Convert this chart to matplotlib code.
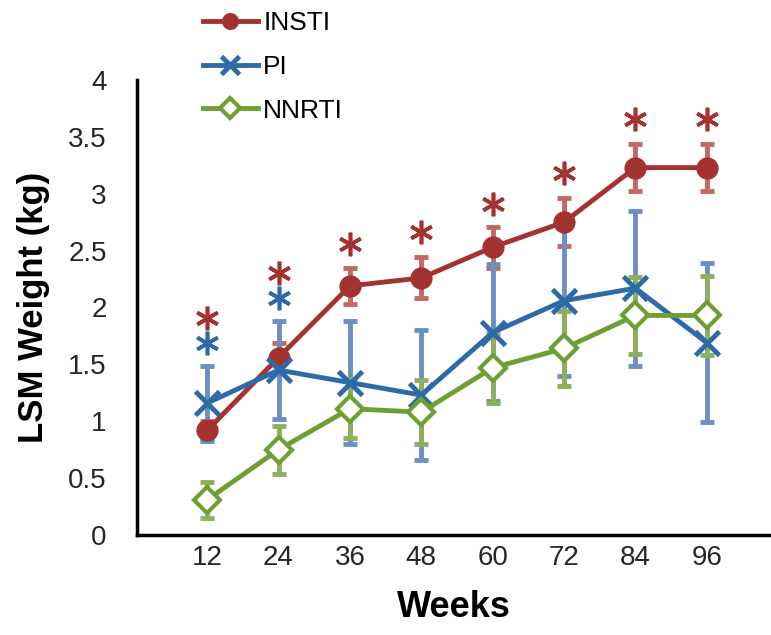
import matplotlib
matplotlib.use("Agg")
import matplotlib.pyplot as plt
import numpy as np

plt.rcParams['font.family'] = ['Liberation Sans', 'DejaVu Sans']

weeks = ["12", "24", "36", "48", "60", "72", "84", "96"]

insti = [0.92, 1.56, 2.19, 2.26, 2.53, 2.75, 3.23, 3.23]
insti_err = [0.08, 0.13, 0.16, 0.18, 0.18, 0.21, 0.21, 0.21]
pi = [1.16, 1.45, 1.34, 1.23, 1.78, 2.06, 2.17, 1.69]
pi_err = [0.33, 0.43, 0.54, 0.57, 0.60, 0.66, 0.68, 0.70]
nnrti = [0.31, 0.75, 1.11, 1.08, 1.47, 1.64, 1.93, 1.93]
nnrti_err = [0.16, 0.21, 0.26, 0.28, 0.31, 0.33, 0.34, 0.35]

# significance stars (heights in kg)
red_star_idx = [0, 1, 2, 3, 4, 5, 6, 7]
red_star_y = [1.91, 2.30, 2.56, 2.66, 2.91, 3.18, 3.66, 3.66]
blue_star_idx = [0, 1]
blue_star_y = [1.69, 2.08]

red, red_e = "#A33230", "#C46862"
blue, blue_e = "#2E6AAA", "#6D8EC4"
green, green_e = "#6E9F33", "#8DB05C"

fig = plt.figure(figsize=(7.71, 6.35), dpi=100)
ax = fig.add_axes([0.178, 0.1575, 0.822, 0.7165])
x = np.arange(len(weeks))

for y, e, c in [(insti, insti_err, red_e), (pi, pi_err, blue_e), (nnrti, nnrti_err, green_e)]:
    ax.errorbar(x, y, yerr=e, fmt="none", ecolor=c, elinewidth=3.5,
                capsize=5, capthick=3.5, zorder=2)

ax.plot(x, insti, color=red, lw=3.5, marker="o", ms=15, zorder=3, label="INSTI")
ax.plot(x, pi, color=blue, lw=3.5, marker="x", ms=17, mew=3.5, zorder=4, label="PI")
ax.plot(x, nnrti, color=green, lw=3.5, marker="D", ms=13, mew=3,
        mfc="white", mec=green, zorder=5, label="NNRTI")

ax.plot(x[red_star_idx], red_star_y, ls="none", marker=(6, 2, 0), ms=17,
        mew=2.6, color=red, zorder=5)
ax.plot(x[blue_star_idx], blue_star_y, ls="none", marker=(6, 2, 0), ms=17,
        mew=2.6, color=blue, zorder=5)

ax.set_xlim(-0.98, 7.9)
ax.set_ylim(0, 4)
ax.set_xticks(x)
ax.set_xticklabels(weeks)
ax.set_yticks(np.arange(0, 4.01, 0.5))
ax.set_yticklabels(["0", "0.5", "1", "1.5", "2", "2.5", "3", "3.5", "4"])
ax.tick_params(length=0, labelsize=20, labelcolor="#262626", pad=7)
ax.tick_params(axis="y", pad=22)
for s in ["top", "right"]:
    ax.spines[s].set_visible(False)
for s in ["left", "bottom"]:
    ax.spines[s].set_linewidth(2.5)

ax.set_xlabel("Weeks", fontsize=26, fontweight="bold", labelpad=14)
ax.set_ylabel("LSM Weight (kg)", fontsize=25, fontweight="bold", labelpad=13)

fig.legend(loc="upper left", bbox_to_anchor=(0.232, 1.02), frameon=False,
           fontsize=19, handlelength=2.1, labelspacing=0.75, handletextpad=0.2,
           markerscale=0.75)

fig.savefig("out.png", dpi=100)
